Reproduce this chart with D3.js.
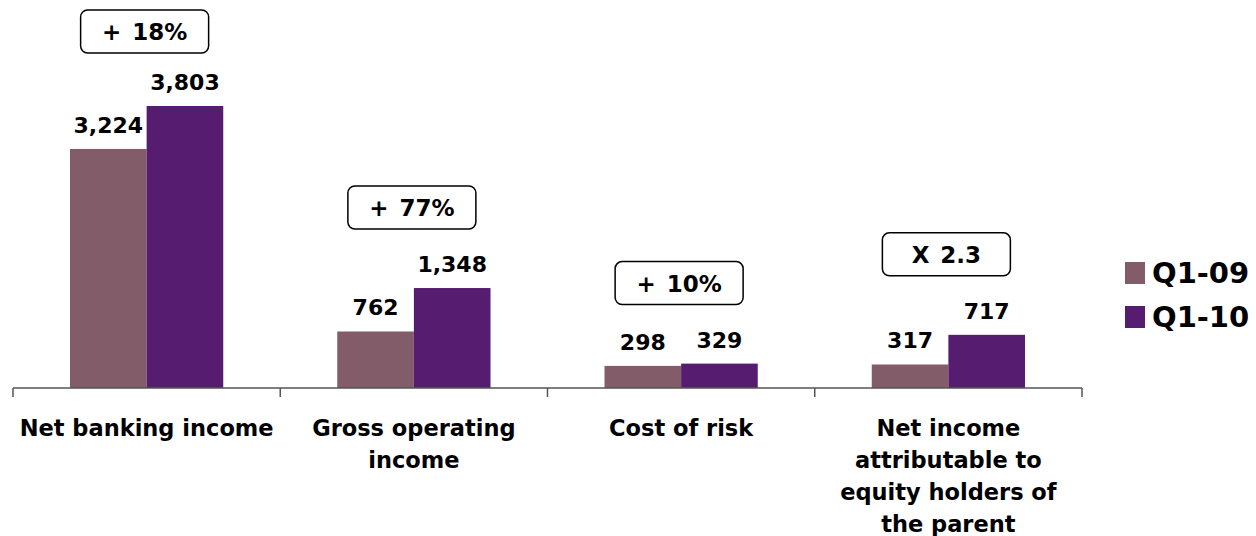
<!DOCTYPE html>
<html>
<head>
<meta charset="utf-8">
<script src="https://cdn.jsdelivr.net/npm/d3@7"></script>
<style>
  body { margin: 0; background: #fff; }
  text { font-family: "DejaVu Sans", Verdana, sans-serif; font-weight: bold; fill: #000; }
</style>
</head>
<body>
<svg width="1256" height="536"></svg>
<script>
// data
var categories = [
  ["Net banking income"],
  ["Gross operating", "income"],
  ["Cost of risk"],
  ["Net income", "attributable to", "equity holders of", "the parent"]
];
var seriesNames = ["Q1-09", "Q1-10"];
var q109 = [3224, 762, 298, 317];
var q110 = [3803, 1348, 329, 717];
var changeLabels = ["+ 18%", "+ 77%", "+ 10%", "X 2.3"];
var colors = ["#835c69", "#561c70"];

var svg = d3.select("svg");
var left = 13, right = 1082, baseY = 388;

var x0 = d3.scaleBand().domain(d3.range(categories.length)).range([left, right]).paddingInner(0).paddingOuter(0);
var x1 = d3.scaleBand().domain([0, 1]).range([57, x0.bandwidth() - 57]);
var y = d3.scaleLinear().domain([0, 3803]).range([baseY, 106]);

var g = svg.append("g");

// bars
var groups = g.selectAll(".grp").data(categories).enter().append("g")
  .attr("class", "grp")
  .attr("transform", function (d, i) { return "translate(" + x0(i) + ",0)"; });

groups.each(function (d, i) {
  var grp = d3.select(this);
  var vals = [q109[i], q110[i]];
  vals.forEach(function (v, s) {
    grp.append("rect")
      .attr("x", x1(s))
      .attr("y", y(v))
      .attr("width", x1.bandwidth())
      .attr("height", baseY - y(v))
      .attr("fill", colors[s]);
    grp.append("text")
      .attr("x", x1(s) + x1.bandwidth() / 2)
      .attr("y", y(v) - 16)
      .attr("text-anchor", "middle")
      .style("font-size", "22px")
      .text(d3.format(",")(v));
  });

  // change box
  var gap = i === 0 ? 53 : 59;
  var bottom = y(Math.max(q109[i], q110[i])) - gap;
  var cx = x1(0) + x1.bandwidth() - 2;
  grp.append("rect")
    .attr("x", cx - 64)
    .attr("y", bottom - 43)
    .attr("width", 128)
    .attr("height", 43)
    .attr("rx", 7)
    .attr("fill", "#fff")
    .attr("stroke", "#000")
    .attr("stroke-width", 1.5);
  grp.append("text")
    .attr("x", cx)
    .attr("y", bottom - 13)
    .attr("text-anchor", "middle")
    .style("font-size", "23px")
    .style("word-spacing", "3px")
    .text(changeLabels[i]);

  // category label
  d.forEach(function (line, k) {
    grp.append("text")
      .attr("x", x0.bandwidth() / 2)
      .attr("y", 436 + k * 32)
      .attr("text-anchor", "middle")
      .style("font-size", "22.5px")
      .text(line);
  });
});

// axis
var axis = g.append("g");
axis.append("line")
  .attr("x1", left).attr("x2", right)
  .attr("y1", baseY).attr("y2", baseY)
  .attr("stroke", "#555").attr("stroke-width", 1.5);
d3.range(categories.length + 1).forEach(function (i) {
  var xx = i < categories.length ? x0(i) : right;
  axis.append("line")
    .attr("x1", xx).attr("x2", xx)
    .attr("y1", baseY).attr("y2", baseY + 9)
    .attr("stroke", "#555").attr("stroke-width", 1.5);
});

// legend
var legend = svg.append("g").attr("transform", "translate(1125,262)");
seriesNames.forEach(function (name, i) {
  legend.append("rect")
    .attr("x", 0).attr("y", i * 44)
    .attr("width", 20).attr("height", 22)
    .attr("fill", colors[i]);
  legend.append("text")
    .attr("x", 27).attr("y", i * 44 + 21)
    .style("font-size", "29px")
    .text(name);
});
</script>
</body>
</html>
